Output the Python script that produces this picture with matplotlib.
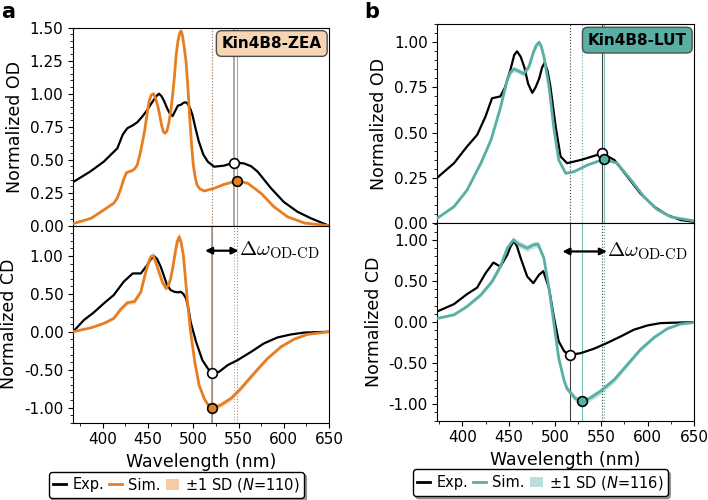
import numpy as np
import matplotlib
matplotlib.use("Agg")
import matplotlib.pyplot as plt
from matplotlib.lines import Line2D
from matplotlib.patches import Patch
from matplotlib.ticker import MultipleLocator, AutoMinorLocator, FormatStrFormatter

plt.rcParams['axes.unicode_minus'] = False
plt.rcParams['font.family'] = ['DejaVu Sans']

# ---- Kin4B8-ZEA (panel a) ----
zea_exp_od_wl = [367, 386, 401, 416, 422, 427, 433, 438, 444, 449, 453, 456, 459, 462, 465, 468, 471, 474, 477,
                 480, 483, 486, 489, 491, 493, 495, 497, 499, 502, 506, 511, 516, 523, 534, 545, 556, 564, 571,
                 586, 600, 615, 630, 650]
zea_exp_od = [0.33, 0.41, 0.485, 0.586, 0.69, 0.738, 0.76, 0.783, 0.83, 0.876, 0.92, 0.95, 0.98, 1.0, 0.98, 0.94,
              0.89, 0.85, 0.83, 0.87, 0.91, 0.915, 0.93, 0.935, 0.93, 0.91, 0.88, 0.84, 0.75, 0.64, 0.54, 0.485,
              0.447, 0.455, 0.478, 0.472, 0.45, 0.41, 0.283, 0.18, 0.106, 0.056, 0.0]

zea_sim_od_wl = [367, 387, 401, 412, 416, 420, 423, 426, 429, 432, 435, 438, 441, 444, 446, 449, 451, 453.5, 456,
                 458, 461, 463, 465, 467, 469, 471, 473, 475, 477, 479, 481, 483, 485, 486.5, 488, 490, 492, 494,
                 496, 498, 500, 502, 504, 507, 512, 523, 534, 548, 560, 575, 589, 604, 623, 650]
zea_sim_od = [0.015, 0.056, 0.119, 0.17, 0.21, 0.283, 0.35, 0.40, 0.41, 0.415, 0.43, 0.46, 0.54, 0.64, 0.712,
              0.85, 0.94, 0.99, 1.0, 0.97, 0.90, 0.83, 0.76, 0.71, 0.70, 0.72, 0.78, 0.864, 0.98, 1.12, 1.29,
              1.40, 1.46, 1.475, 1.44, 1.35, 1.24, 1.05, 0.82, 0.62, 0.46, 0.37, 0.31, 0.28, 0.263, 0.283, 0.313,
              0.339, 0.322, 0.245, 0.144, 0.068, 0.02, 0.0]

zea_exp_cd_wl = [367, 379, 390, 401, 412, 423, 433, 442, 449, 453, 456.6, 460, 464, 468, 471, 475, 479, 483, 486,
                 489, 492, 495, 497, 503, 510, 516, 521, 528.5, 538, 549, 564, 578, 593, 608, 623, 650]
zea_exp_cd = [0.0, 0.154, 0.255, 0.374, 0.484, 0.66, 0.77, 0.77, 0.88, 0.96, 1.0, 0.96, 0.858, 0.72, 0.616, 0.55,
              0.528, 0.52, 0.528, 0.50, 0.44, 0.28, 0.132, -0.132, -0.374, -0.484, -0.55, -0.528, -0.44, -0.374,
              -0.264, -0.154, -0.075, -0.035, -0.01, 0.0]

zea_sim_cd_wl = [367, 387, 401, 412, 420, 427, 435, 442, 447, 450, 453, 456, 459, 462, 466, 470, 473, 475, 477.5,
                 479.5, 482, 484.3, 486.5, 489, 491, 493.5, 497, 501.6, 506.4, 512, 516, 521, 525, 530, 541.5,
                 552.5, 567, 582, 597, 611.5, 626, 650]
zea_sim_cd = [0.0, 0.053, 0.11, 0.176, 0.30, 0.383, 0.40, 0.528, 0.77, 0.90, 0.99, 1.0, 0.90, 0.79, 0.65, 0.571,
              0.63, 0.704, 0.86, 1.01, 1.18, 1.253, 1.18, 1.01, 0.75, 0.40, 0.0, -0.396, -0.703, -0.88, -0.96,
              -1.0, -0.99, -0.967, -0.88, -0.748, -0.55, -0.352, -0.198, -0.097, -0.035, 0.0]
zea_sim_cd_sd = [0.0, 0.005, 0.01, 0.015, 0.02, 0.025, 0.03, 0.03, 0.04, 0.045, 0.05, 0.05, 0.045, 0.04, 0.035,
                 0.03, 0.03, 0.035, 0.045, 0.05, 0.055, 0.06, 0.055, 0.05, 0.04, 0.03, 0.02, 0.02, 0.025, 0.03,
                 0.03, 0.03, 0.03, 0.03, 0.03, 0.03, 0.025, 0.02, 0.015, 0.01, 0.005, 0.0]

# ---- Kin4B8-LUT (panel b) ----
lut_exp_od_wl = [373, 391, 405, 416, 425, 432, 441, 446, 452, 456, 459, 463, 467, 471, 475.5, 479, 483, 486, 489,
                 492, 495, 500.7, 506, 513, 528, 542, 551, 564, 578, 592, 607, 621, 635.5, 650]
lut_exp_od = [0.25, 0.33, 0.422, 0.487, 0.589, 0.69, 0.70, 0.75, 0.85, 0.93, 0.95, 0.92, 0.86, 0.77, 0.72, 0.75,
              0.80, 0.86, 0.889, 0.84, 0.756, 0.533, 0.367, 0.33, 0.348, 0.37, 0.385, 0.348, 0.256, 0.163, 0.089,
              0.043, 0.015, 0.005]

lut_sim_od_wl = [373, 391, 405, 420, 431, 441, 448.5, 452, 455.7, 461, 466.5, 472, 477, 480, 482.7, 485, 488,
                 493.5, 499, 504, 511.5, 520.5, 535, 553, 567, 582, 596, 610, 625, 650]
lut_sim_od = [0.025, 0.089, 0.18, 0.33, 0.46, 0.635, 0.793, 0.835, 0.852, 0.84, 0.826, 0.867, 0.95, 0.985, 1.0,
              0.98, 0.922, 0.756, 0.515, 0.348, 0.274, 0.283, 0.32, 0.352, 0.33, 0.237, 0.144, 0.074, 0.032, 0.01]
lut_sim_od_sd = [0.0, 0.005, 0.005, 0.01, 0.01, 0.01, 0.015, 0.015, 0.015, 0.015, 0.015, 0.015, 0.015, 0.015,
                 0.015, 0.015, 0.015, 0.01, 0.01, 0.005, 0.005, 0.005, 0.005, 0.005, 0.005, 0.005, 0.005, 0.0,
                 0.0, 0.0]

lut_exp_cd_wl = [373, 391, 405, 416, 425, 433.5, 441, 448.5, 452, 455.7, 459, 463, 470, 476.6, 482.7, 487.4, 493.5,
                 499, 504, 510, 516, 528, 542, 556, 571, 585, 600, 614, 650]
lut_exp_cd = [0.13, 0.219, 0.34, 0.42, 0.595, 0.725, 0.676, 0.818, 0.92, 0.988, 0.92, 0.778, 0.555, 0.474, 0.575,
              0.62, 0.413, 0.049, -0.235, -0.356, -0.40, -0.377, -0.324, -0.255, -0.174, -0.093, -0.04, -0.012, 0.0]

lut_sim_cd_wl = [373, 391, 405, 420, 432, 441, 448.5, 455, 461, 470, 476.6, 481.7, 488, 493.5, 499, 504, 510, 513,
                 517, 522, 529, 533, 538, 549, 564, 578, 592, 607, 621, 635.5, 650]
lut_sim_cd = [0.045, 0.089, 0.19, 0.332, 0.494, 0.676, 0.90, 1.0, 0.948, 0.90, 0.94, 0.948, 0.778, 0.413, -0.032,
              -0.437, -0.72, -0.81, -0.863, -0.93, -0.964, -0.955, -0.924, -0.842, -0.70, -0.518, -0.336, -0.186,
              -0.081, -0.024, -0.005]
lut_sim_cd_sd = [0.005, 0.01, 0.015, 0.02, 0.025, 0.03, 0.035, 0.04, 0.04, 0.04, 0.04, 0.04, 0.035, 0.03, 0.03,
                 0.03, 0.035, 0.04, 0.04, 0.04, 0.04, 0.04, 0.04, 0.04, 0.035, 0.03, 0.025, 0.02, 0.01, 0.005, 0.0]

orange = '#e67e22'
teal = '#5aafa5'

panels = [
    dict(name='Kin4B8-ZEA', letter='a', n=110, color=orange, box='#f6d5b4', xlim=(367, 650),
         od_ylim=(0, 1.5), cd_ylim=(-1.2, 1.4), od_ticks=np.arange(0, 1.51, 0.25), arrow_y=1.07,
         exp_vc='0.55', exp_vlw=1.4, exp_valpha=0.75,
         top=[0.1031, 0.5486, 0.3616, 0.396], bot=[0.1031, 0.1546, 0.3616, 0.394],
         eod=(zea_exp_od_wl, zea_exp_od), sod=(zea_sim_od_wl, zea_sim_od, None),
         ecd=(zea_exp_cd_wl, zea_exp_cd), scd=(zea_sim_cd_wl, zea_sim_cd, zea_sim_cd_sd),
         leg=(0.249, 0.030), letter_pos=(0.002, 0.995)),
    dict(name='Kin4B8-LUT', letter='b', n=116, color=teal, box=teal, xlim=(373, 650),
         od_ylim=(0, 1.1), cd_ylim=(-1.2, 1.21), od_ticks=np.arange(0, 1.01, 0.25), arrow_y=0.86,
         exp_vc='0.25', exp_vlw=0.8, exp_valpha=1.0,
         top=[0.6177, 0.5546, 0.3625, 0.3968], bot=[0.6177, 0.1586, 0.3625, 0.396],
         eod=(lut_exp_od_wl, lut_exp_od), sod=(lut_sim_od_wl, lut_sim_od, lut_sim_od_sd),
         ecd=(lut_exp_cd_wl, lut_exp_cd), scd=(lut_sim_cd_wl, lut_sim_cd, lut_sim_cd_sd),
         leg=(0.763, 0.035), letter_pos=(0.515, 0.995)),
]

fig = plt.figure(figsize=(7.08, 5.0), dpi=100)

for p in panels:
    c = p['color']
    ax1 = fig.add_axes(p['top'])
    ax2 = fig.add_axes(p['bot'], sharex=ax1)

    ewl, eod = np.array(p['eod'][0]), np.array(p['eod'][1])
    swl, sod = np.array(p['sod'][0]), np.array(p['sod'][1])
    cwl, ecd = np.array(p['ecd'][0]), np.array(p['ecd'][1])
    dwl, scd, scd_sd = np.array(p['scd'][0]), np.array(p['scd'][1]), np.array(p['scd'][2])

    # peak / minimum positions in the red band
    m = ewl > 520
    e_pk = ewl[m][np.argmax(eod[m])]
    m = swl > 520
    s_pk = swl[m][np.argmax(sod[m])]
    m = cwl > 500
    e_min = cwl[m][np.argmin(ecd[m])]
    m = dwl > 500
    s_min = dwl[m][np.argmin(scd[m])]

    ev = dict(color=p['exp_vc'], alpha=p['exp_valpha'], zorder=1.2)

    # OD panel
    if p['sod'][2] is not None:
        sd = np.array(p['sod'][2])
        ax1.fill_between(swl, sod - sd, sod + sd, color=c, alpha=0.35, lw=0)
    ax1.plot(ewl, eod, color='k', lw=1.6, zorder=3)
    ax1.plot(swl, sod, color=c, lw=2.0, zorder=3)
    ax1.axvline(s_pk, color=c, lw=0.8, alpha=0.8, zorder=1)
    ax1.axvline(s_min, color=c, lw=0.8, ls=':', zorder=1)
    ax1.axvline(e_pk, lw=p['exp_vlw'], **ev)
    ax1.axvline(e_min, lw=0.8, ls=':', **ev)
    ax1.plot(e_pk, eod[ewl == e_pk], 'o', ms=7, mfc='white', mec='k', mew=1.2, zorder=5)
    ax1.plot(s_pk, sod[swl == s_pk], 'o', ms=7, mfc=c, mec='k', mew=1.2, zorder=5)

    # CD panel
    ax2.fill_between(dwl, scd - scd_sd, scd + scd_sd, color=c, alpha=0.35, lw=0)
    ax2.plot(cwl, ecd, color='k', lw=1.6, zorder=3)
    ax2.plot(dwl, scd, color=c, lw=2.0, zorder=3)
    ax2.axvline(s_min, color=c, lw=0.8, alpha=0.8, zorder=1)
    ax2.axvline(s_pk, color=c, lw=0.8, ls=':', zorder=1)
    ax2.axvline(e_min, lw=p['exp_vlw'], **ev)
    ax2.axvline(e_pk, lw=0.8, ls=':', **ev)
    ax2.plot(e_min, ecd[cwl == e_min], 'o', ms=7, mfc='white', mec='k', mew=1.2, zorder=5)
    ax2.plot(s_min, scd[dwl == s_min], 'o', ms=7, mfc=c, mec='k', mew=1.2, zorder=5)

    # shift arrow
    ax2.annotate('', xy=(e_min - 8, p['arrow_y']), xytext=(e_pk + 5, p['arrow_y']),
                 arrowprops=dict(arrowstyle='<|-|>', color='k', lw=1.6, mutation_scale=10,
                                 shrinkA=0, shrinkB=0))
    ax2.text(e_pk + 5, p['arrow_y'], r'$\Delta\omega_{\text{OD-CD}}$', fontsize=15,
             math_fontfamily='cm', ha='left', va='center')

    ax1.text(0.972, 0.958, p['name'], transform=ax1.transAxes, ha='right', va='top',
             fontsize=11, fontweight='bold',
             bbox=dict(boxstyle='round,pad=0.35', fc=p['box'], ec='0.3', lw=1))

    ax1.set_xlim(*p['xlim'])
    ax1.set_ylim(*p['od_ylim'])
    ax2.set_ylim(*p['cd_ylim'])
    ax1.set_yticks(p['od_ticks'])
    ax2.set_yticks([-1.0, -0.5, 0.0, 0.5, 1.0])
    for ax in (ax1, ax2):
        ax.yaxis.set_major_formatter(FormatStrFormatter('%.2f'))
        ax.yaxis.set_minor_locator(AutoMinorLocator(5))
        ax.xaxis.set_major_locator(MultipleLocator(50))
        ax.xaxis.set_minor_locator(MultipleLocator(25))
        ax.tick_params(labelsize=11)
    ax1.tick_params(labelbottom=False)
    ax1.set_ylabel('Normalized OD', fontsize=12.5)
    ax2.set_ylabel('Normalized CD', fontsize=12.5)
    ax2.set_xlabel('Wavelength (nm)', fontsize=12.5)
    fig.align_ylabels([ax1, ax2])

    handles = [Line2D([], [], color='k', lw=2), Line2D([], [], color=c, lw=2),
               Patch(facecolor=c, alpha=0.4, lw=0)]
    labels = ['Exp.', 'Sim.', r'$\pm$1 SD ($N$=%d)' % p['n']]
    fig.legend(handles, labels, loc='center', bbox_to_anchor=p['leg'], ncol=3, fontsize=10.5,
               handlelength=0.9, handletextpad=0.4, columnspacing=0.35, borderpad=0.3,
               frameon=True, edgecolor='k', fancybox=True, shadow=True, framealpha=1)

    fig.text(p['letter_pos'][0], p['letter_pos'][1], p['letter'], fontsize=15, fontweight='bold',
             ha='left', va='top')

fig.savefig('out.png', dpi=100)
